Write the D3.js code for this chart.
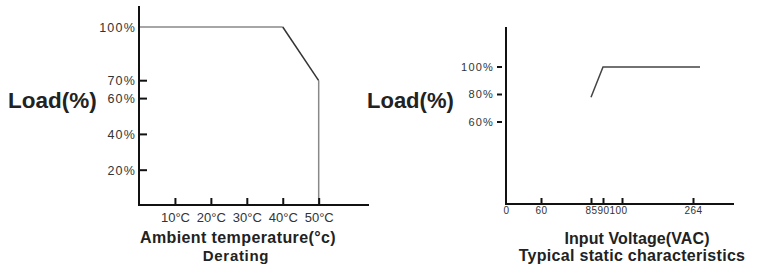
<!DOCTYPE html>
<html>
<head>
<meta charset="utf-8">
<script src="https://cdn.jsdelivr.net/npm/d3@7"></script>
<style>
  body { margin: 0; background: #fff; }
  text { font-family: 'Liberation Sans', Arial, sans-serif; }
</style>
</head>
<body>
<div id="viz"></div>
<script>
// derating curve (left)
const deratingTemp = [0, 40, 50, 50];
const deratingLoad = [100, 100, 70, 0];
const deratingColors = ['#888', '#333', '#888'];
const tempTicks = [10, 20, 30, 40, 50];
const tempTickLabels = ['10°C', '20°C', '30°C', '40°C', '50°C'];
const leftLoadTicks = [20, 40, 60, 70];
const leftLoadLabels = [20, 40, 60, 70, 100];

// static characteristics (right)
const voltage = [85, 90, 277];
const staticLoad = [78, 100, 100];
const voltTicks = [0, 60, 85, 90, 100, 264];
const rightLoadTicks = [60, 80, 100];

const svg = d3.select('#viz').append('svg')
  .attr('width', 761)
  .attr('height', 268);

const pct = d => d + '%';

/** draws the left, derating panel */
function drawDerating() {
  const x = d3.scaleLinear().domain([0, 64]).range([139, 369]);
  const y = d3.scaleLinear().domain([0, 100]).range([206, 27]);
  const g = svg.append('g');

  // data line, one segment at a time so the shades can differ
  d3.range(deratingTemp.length - 1).forEach(i => {
    g.append('line')
      .attr('x1', x(deratingTemp[i])).attr('y1', y(deratingLoad[i]))
      .attr('x2', x(deratingTemp[i + 1])).attr('y2', y(deratingLoad[i + 1]))
      .style('stroke', deratingColors[i])
      .style('stroke-width', 1.5);
  });

  // axes
  g.append('line').attr('x1', 139).attr('x2', 139).attr('y1', 6).attr('y2', 206)
    .style('stroke', '#111').style('stroke-width', 2);
  g.append('line').attr('x1', 138).attr('x2', 369).attr('y1', 205).attr('y2', 205)
    .style('stroke', '#111').style('stroke-width', 2);

  const xAxis = g.append('g')
    .attr('transform', 'translate(0,205)')
    .call(d3.axisBottom(x).tickValues(tempTicks).tickSize(-7).tickPadding(8)
      .tickFormat((d, i) => tempTickLabels[i]));
  xAxis.select('.domain').remove();
  xAxis.selectAll('.tick line').style('stroke', '#111').style('stroke-width', 2);
  xAxis.selectAll('.tick text').style('font-size', '13px').style('fill', '#333')
    .style('font-family', "'Liberation Sans', Arial, sans-serif");

  g.selectAll('.ytick').data(leftLoadTicks).join('line')
    .attr('x1', 139).attr('x2', 147)
    .attr('y1', d => y(d)).attr('y2', d => y(d))
    .style('stroke', '#111').style('stroke-width', 2);
  g.selectAll('.ylabel').data(leftLoadLabels).join('text')
    .attr('x', 136).attr('y', d => y(d)).attr('dy', '0.36em')
    .attr('text-anchor', 'end')
    .style('font-size', '12.5px').style('letter-spacing', '1.2px').style('fill', '#333')
    .text(pct);

  g.append('text').attr('x', 8).attr('y', 108)
    .style('font-size', '22.5px').style('font-weight', 'bold').style('fill', '#222')
    .text('Load(%)');
  g.append('text').attr('x', 238).attr('y', 243).attr('text-anchor', 'middle')
    .style('font-size', '16px').style('font-weight', 'bold').style('letter-spacing', '0.4px').style('fill', '#222')
    .text('Ambient temperature(°c)');
  g.append('text').attr('x', 236).attr('y', 261).attr('text-anchor', 'middle')
    .style('font-size', '15px').style('font-weight', 'bold').style('letter-spacing', '0.7px').style('fill', '#222')
    .text('Derating');
}

/** draws the right, static characteristics panel */
function drawStatic() {
  // the voltage axis is not to scale, so piecewise linear
  const x = d3.scaleLinear()
    .domain([0, 60, 85, 90, 100, 264, 340])
    .range([506, 541, 591, 603, 622, 693, 734]);
  const y = d3.scaleLinear().domain([0, 100]).range([204.5, 67]);
  const g = svg.append('g');

  const line = d3.line().x(d => x(d[0])).y(d => y(d[1]));
  g.append('path')
    .attr('d', line(voltage.map((v, i) => [v, staticLoad[i]])))
    .style('fill', 'none')
    .style('stroke', '#444')
    .style('stroke-width', 1.5);

  g.append('line').attr('x1', 506).attr('x2', 506).attr('y1', 27).attr('y2', 205)
    .style('stroke', '#111').style('stroke-width', 2);
  g.append('line').attr('x1', 505).attr('x2', 734).attr('y1', 204).attr('y2', 204)
    .style('stroke', '#111').style('stroke-width', 2);

  const xAxis = g.append('g')
    .attr('transform', 'translate(0,204)')
    .call(d3.axisBottom(x).tickValues(voltTicks).tickSize(-6).tickPadding(3)
      .tickFormat(d3.format('d')));
  xAxis.select('.domain').remove();
  xAxis.selectAll('.tick line').style('stroke', '#111').style('stroke-width', 2)
    .filter(d => d === 0).remove();
  // the labels run together in the original, 100 sits a bit left of its tick
  xAxis.selectAll('.tick text').style('font-size', '10px').style('fill', '#333')
    .style('letter-spacing', '0.4px')
    .style('font-family', "'Liberation Sans', Arial, sans-serif")
    .attr('dx', d => (d === 100 ? -4 : 0));

  g.selectAll('.ytick').data(rightLoadTicks).join('line')
    .attr('x1', 497).attr('x2', 502)
    .attr('y1', d => y(d)).attr('y2', d => y(d))
    .style('stroke', '#111').style('stroke-width', 2);
  g.selectAll('.ylabel').data(rightLoadTicks).join('text')
    .attr('x', 494).attr('y', d => y(d)).attr('dy', '0.36em')
    .attr('text-anchor', 'end')
    .style('font-size', '11px').style('letter-spacing', '1.2px').style('fill', '#333')
    .text(pct);

  g.append('text').attr('x', 367).attr('y', 108)
    .style('font-size', '22px').style('font-weight', 'bold').style('fill', '#222')
    .text('Load(%)');
  g.append('text').attr('x', 637).attr('y', 244).attr('text-anchor', 'middle')
    .style('font-size', '16px').style('font-weight', 'bold').style('letter-spacing', '0.1px').style('fill', '#222')
    .text('Input Voltage(VAC)');
  g.append('text').attr('x', 632).attr('y', 261).attr('text-anchor', 'middle')
    .style('font-size', '16px').style('font-weight', 'bold').style('letter-spacing', '0.3px').style('fill', '#222')
    .text('Typical static characteristics');
}

drawDerating();
drawStatic();
</script>
</body>
</html>
